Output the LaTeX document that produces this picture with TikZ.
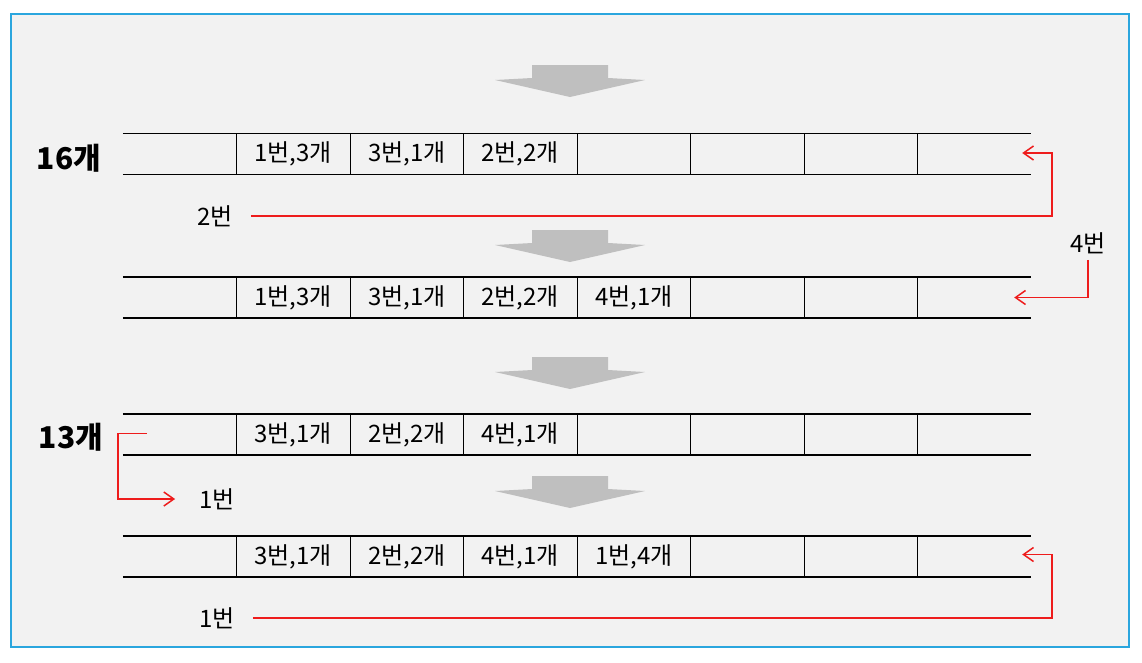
\documentclass[tikz,border=0pt]{standalone}
\usepackage{fontspec}
\setmainfont{Noto Sans CJK KR}
\usetikzlibrary{arrows.meta}
\definecolor{framblue}{HTML}{2BA6DE}
\definecolor{panelgray}{HTML}{F2F2F2}
\definecolor{downgray}{HTML}{BFBFBF}
\definecolor{movered}{HTML}{EE1C1C}
\begin{document}
\begin{tikzpicture}[x=1pt, y=-1pt,
    cell/.style={minimum width=113.5pt, minimum height=40.5pt, inner sep=0pt, font=\fontsize{24}{28}\selectfont},
    rowline/.style={draw=black, line width=1.2pt},
    lbl/.style={inner sep=0pt, font=\fontsize{24}{28}\selectfont},
    count/.style={inner sep=0pt, font=\fontsize{30}{34}\selectfont\bfseries},
    moveline/.style={draw=movered, line width=1.5pt, -{Straight Barb[length=10pt, width=14pt]}}]
    \useasboundingbox (0,0) rectangle (1142,662);
    %   Background panel
    \draw[framblue, line width=1.8pt, fill=panelgray] (11,14) rectangle (1129,647);
    %   Down arrows between the rows
    \foreach \y in {65,230,357,476}
        \fill[downgray] (532,\y) -- (608,\y) -- (608,\y+13) -- (645,\y+15) -- (570,\y+32) -- (495,\y+15) -- (532,\y+13) -- cycle;
    %   Rows of cells
    \foreach \t [count=\k] in {{},{1번,3개},{3번,1개},{2번,2개},{},{},{},{}}
        \node[cell] (cell-1-\k) at (66.25+113.5*\k,154) {\t};
    \foreach \t [count=\k] in {{},{1번,3개},{3번,1개},{2번,2개},{4번,1개},{},{},{}}
        \node[cell] (cell-2-\k) at (66.25+113.5*\k,297.5) {\t};
    \foreach \t [count=\k] in {{},{3번,1개},{2번,2개},{4번,1개},{},{},{},{}}
        \node[cell] (cell-3-\k) at (66.25+113.5*\k,434.5) {\t};
    \foreach \t [count=\k] in {{},{3번,1개},{2번,2개},{4번,1개},{1번,4개},{},{},{}}
        \node[cell] (cell-4-\k) at (66.25+113.5*\k,556.5) {\t};
    \foreach \r in {1,...,4} {
        \draw[rowline] (cell-\r-1.north west) -- (cell-\r-8.north east);
        \draw[rowline] (cell-\r-1.south west) -- (cell-\r-8.south east);
        \foreach \k in {1,...,7}
            \draw[rowline] (cell-\r-\k.north east) -- (cell-\r-\k.south east);
    }
    %   Labels
    \node[count] (count16) at (69,158) {16개};
    \node[count] (count13) at (71,437) {13개};
    \node[lbl] (lbl-a) at (215,216) {2번};
    \node[lbl] (lbl-b) at (1088,243) {4번};
    \node[lbl] (lbl-c) at (217,499) {1번};
    \node[lbl] (lbl-d) at (217,618) {1번};
    %   Red moves
    \draw[moveline] ([xshift=18pt]lbl-a.east) -| ([xshift=21pt, yshift=1pt]cell-1-8.east) -- ([xshift=-9pt, yshift=1pt]cell-1-8.east);
    \draw[moveline] ([yshift=-6pt]lbl-b.south) |- ([xshift=-17pt]cell-2-8.east);
    \draw[moveline] ([xshift=24pt, yshift=1pt]cell-3-1.west) -- ([xshift=-5pt, yshift=1pt]cell-3-1.west) |- ([xshift=-24pt]lbl-c.west);
    \draw[moveline] ([xshift=18pt]lbl-d.east) -| ([xshift=21pt, yshift=2pt]cell-4-8.east) -- ([xshift=-9pt, yshift=2pt]cell-4-8.east);
\end{tikzpicture}
\end{document}
